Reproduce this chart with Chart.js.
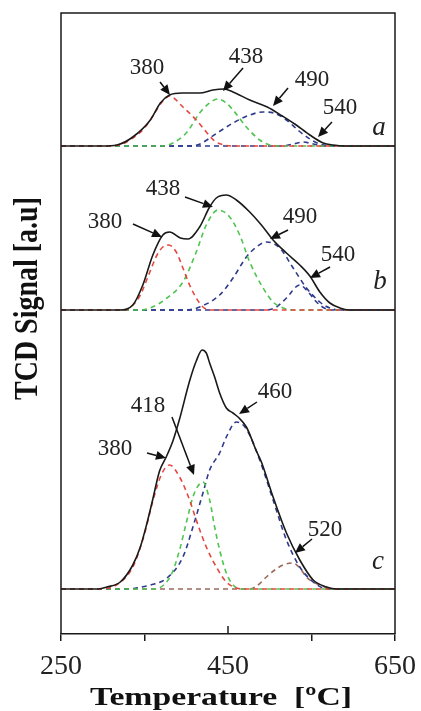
<!DOCTYPE html>
<html><head><meta charset="utf-8">
<script src="https://cdn.jsdelivr.net/npm/chart.js@4/dist/chart.umd.min.js"></script>
<style>html,body{margin:0;padding:0;background:#fff}#wrap{width:421px;height:711px;position:relative}</style>
</head><body><div id="wrap"><canvas id="c"></canvas></div>
<script>
// ---------- data (temperature °C, TCD signal a.u. above each panel baseline) ----------
const tickLabels = [250, 450, 650];
const xTitle = 'Temperature  [ºC]';
const yTitle = 'TCD Signal [a.u]';
const offsetA = 488, offsetB = 324, offsetC = 45;

// panel a
const aTotal = [[250,0],[300,0],[317,1],[336,9],[357,26],[369,43],[380,51],[395,53],[416,53],[432,56],[445,57],[456,54],[476,46],[497,39],[515,30],[530,22],[548,11],[564,3],[576,1],[590,0],[650,0]];
const aPeak380 = [[250,0],[300,0],[320,1],[336,8],[350,18],[360,30],[370,43],[380,50],[396,39],[412,26],[424,14],[434,5],[445,1],[455,0],[650,0]];
const aPeak438 = [[250,0],[370,0],[384,3],[401,14],[416,33],[428,43],[438,47],[448,43],[456,36],[472,19],[488,6],[500,1],[510,0],[650,0]];
const aPeak490 = [[250,0],[400,0],[413,1],[437,13],[456,23],[476,31],[492,34],[505,33],[520,26],[535,15],[548,7],[560,2],[575,0],[650,0]];
const aPeak540 = [[250,0],[515,0],[528,2],[540,4],[552,2],[565,0],[650,0]];

// panel b
const bTotal = [[250,0],[320,0],[336,5],[348,25],[360,55],[372,75],[380,78],[393,72],[402,71],[416,83],[428,103],[436,112],[448,115],[460,110],[476,98],[490,85],[504,70],[520,57],[536,45],[548,34],[560,18],[572,7],[584,2],[595,0],[650,0]];
const bPeak380 = [[250,0],[325,0],[335,4],[345,15],[355,35],[365,55],[372,63],[379,65],[388,58],[396,42],[404,25],[412,12],[420,3],[430,0],[650,0]];
const bPeak438 = [[250,0],[345,0],[357,2],[377,12],[396,28],[412,58],[424,85],[438,100],[452,93],[464,75],[476,48],[492,22],[504,8],[516,2],[530,0],[650,0]];
const bPeak490 = [[250,0],[400,0],[416,3],[440,15],[456,32],[472,53],[484,63],[496,68],[512,62],[528,42],[544,22],[560,8],[572,2],[585,0],[650,0]];
const bPeak540 = [[250,0],[495,0],[508,3],[520,12],[536,25],[546,18],[556,8],[568,1],[580,0],[650,0]];

// panel c
const cTotal = [[250,0],[295,0],[305,2],[321,7],[336,24],[345,42],[353,66],[360,90],[368,118],[376,132],[384,148],[392,170],[404,208],[412,228],[419,239],[424,236],[428,226],[434,212],[440,196],[448,181],[456,176],[462,172],[472,162],[484,138],[490,127],[504,92],[520,56],[536,29],[552,9],[568,2],[580,0],[650,0]];
const cPeak380 = [[250,0],[295,0],[320,6],[336,22],[350,55],[360,88],[370,114],[380,124],[392,112],[404,89],[412,69],[424,42],[436,22],[448,7],[460,1],[470,0],[650,0]];
const cPeak418 = [[250,0],[360,0],[373,4],[383,16],[392,39],[400,66],[408,92],[414,103],[420,107],[428,89],[434,62],[440,39],[448,16],[456,4],[466,0],[650,0]];
const cPeak460 = [[250,0],[330,0],[340,1],[357,4],[377,11],[396,32],[408,62],[420,96],[428,119],[440,136],[448,152],[460,167],[472,160],[488,129],[504,89],[520,49],[536,22],[552,7],[564,1],[575,0],[650,0]];
const cPeak520 = [[250,0],[476,0],[486,4],[496,12],[506,19],[516,24],[528,26],[536,21],[544,12],[552,7],[560,4],[570,1],[580,0],[650,0]];

// peak labels: text, label position, arrow start, arrow tip (data coordinates)
const peakLabels = [
  ['380', 353, 566, 368.6, 552, 380.5, 539],
  ['438', 471.6, 577, 468, 566, 444, 543],
  ['490', 550.6, 554, 521.9, 546, 503.9, 528],
  ['540', 584.1, 526, 574.5, 512, 557.8, 497],
  ['380', 302.7, 412, 336.2, 410, 371, 397],
  ['438', 372.2, 445, 398.5, 437, 432, 427],
  ['490', 536.2, 417, 521.9, 404, 500.3, 395],
  ['540', 581.7, 379, 572.2, 367, 548.2, 356],
  ['460', 506.3, 242, 484.7, 232, 463.2, 220],
  ['418', 354.2, 228, 382.9, 217, 409.3, 159],
  ['380', 314.7, 185, 353, 181, 375.7, 176],
  ['520', 566.2, 104, 550.6, 95, 530.2, 81]
];
const panelLetters = [['a', 630.8, 506], ['b', 632, 352], ['c', 629.6, 72]];

// ---------- styles ----------
const RED = '#e4473f', GREEN = '#4fc44f', BLUE = '#2e3a8c', BROWN = '#9a6a5c', BLACK = '#1a1a1a';

function pts(arr, off) { return arr.map(p => ({x: p[0], y: off + p[1]})); }
function dashed(arr, off, col) {
  return {data: pts(arr, off), borderColor: col, borderWidth: 1.6, borderDash: [5, 4],
          pointRadius: 0, fill: false, cubicInterpolationMode: 'monotone', order: 2};
}
function solid(arr, off) {
  return {data: pts(arr, off), borderColor: BLACK, borderWidth: 1.6,
          pointRadius: 0, fill: false, cubicInterpolationMode: 'monotone', order: 1};
}

const datasets = [
  solid(aTotal, offsetA), dashed(aPeak380, offsetA, RED), dashed(aPeak438, offsetA, GREEN), dashed(aPeak490, offsetA, BLUE), dashed(aPeak540, offsetA, BLUE),
  solid(bTotal, offsetB), dashed(bPeak380, offsetB, RED), dashed(bPeak438, offsetB, GREEN), dashed(bPeak490, offsetB, BLUE), dashed(bPeak540, offsetB, BLUE),
  solid(cTotal, offsetC), dashed(cPeak380, offsetC, RED), dashed(cPeak418, offsetC, GREEN), dashed(cPeak460, offsetC, BLUE), dashed(cPeak520, offsetC, BROWN)
];

const decor = {
  id: 'decor',
  afterDraw(chart) {
    const {ctx, chartArea: ca, scales: {x, y}} = chart;
    ctx.save();
    // frame (top, left, right)
    ctx.strokeStyle = BLACK; ctx.lineWidth = 1.5;
    ctx.beginPath();
    ctx.moveTo(ca.left, ca.bottom); ctx.lineTo(ca.left, ca.top); ctx.lineTo(ca.right, ca.top); ctx.lineTo(ca.right, ca.bottom);
    ctx.stroke();
    // inward tick at 450
    const x450 = x.getPixelForValue(450);
    ctx.beginPath(); ctx.moveTo(x450, ca.bottom); ctx.lineTo(x450, ca.bottom - 8); ctx.stroke();

    // peak labels with arrows
    ctx.fillStyle = '#222'; ctx.strokeStyle = '#111';
    ctx.font = '23px "Liberation Serif"';
    ctx.textAlign = 'center'; ctx.textBaseline = 'middle';
    peakLabels.forEach(l => {
      const tx = x.getPixelForValue(l[1]), ty = y.getPixelForValue(l[2]);
      ctx.fillText(l[0], tx, ty);
      const x1 = x.getPixelForValue(l[3]), y1 = y.getPixelForValue(l[4]);
      const x2 = x.getPixelForValue(l[5]), y2 = y.getPixelForValue(l[6]);
      const ang = Math.atan2(y2 - y1, x2 - x1), hl = 10, hw = 4.5;
      const bx = x2 - hl * Math.cos(ang), by = y2 - hl * Math.sin(ang);
      ctx.lineWidth = 1.5;
      ctx.beginPath(); ctx.moveTo(x1, y1); ctx.lineTo(bx, by); ctx.stroke();
      ctx.beginPath();
      ctx.moveTo(x2, y2);
      ctx.lineTo(bx + hw * Math.sin(ang), by - hw * Math.cos(ang));
      ctx.lineTo(bx - hw * Math.sin(ang), by + hw * Math.cos(ang));
      ctx.closePath(); ctx.fillStyle = '#111'; ctx.fill();
      ctx.fillStyle = '#222';
    });
    // panel letters
    ctx.font = 'italic 27px "Liberation Serif"';
    panelLetters.forEach(l => ctx.fillText(l[0], x.getPixelForValue(l[1]), y.getPixelForValue(l[2])));

    // axis titles (stretched to match the reference proportions)
    ctx.fillStyle = '#111';
    ctx.font = 'bold 26px "Liberation Serif"';
    ctx.textBaseline = 'alphabetic';
    let w = ctx.measureText(xTitle).width;
    ctx.save();
    ctx.translate(221, 705);
    ctx.scale(262 / w, 1);
    ctx.fillText(xTitle, 0, 0);
    ctx.restore();

    ctx.font = 'bold 28px "Liberation Serif"';
    w = ctx.measureText(yTitle).width;
    ctx.save();
    ctx.translate(37, 298.5);
    ctx.rotate(-Math.PI / 2);
    ctx.scale(203 / w, 1.18);
    ctx.fillText(yTitle, 0, 0);
    ctx.restore();
    ctx.restore();
  }
};

new Chart(document.getElementById('c'), {
  type: 'line',
  data: {datasets},
  options: {
    responsive: true, maintainAspectRatio: false, animation: false,
    devicePixelRatio: 1,
    layout: {padding: {left: 61, right: 26, top: 13, bottom: 0}},
    plugins: {legend: {display: false}, tooltip: {enabled: false}},
    elements: {line: {tension: 0.4}},
    scales: {
      x: {
        type: 'linear', min: 250, max: 650,
        afterFit(s) { s.height = 77; s.paddingLeft = 0; s.paddingRight = 0; },
        ticks: {stepSize: 100, autoSkip: false, maxRotation: 0, padding: 9, color: '#222',
                font: {family: 'Liberation Serif', size: 28},
                callback: v => tickLabels.includes(v) ? String(v) : ''},
        grid: {display: true, drawOnChartArea: false, drawTicks: true, tickLength: 7, color: BLACK,
               lineWidth: c => (c.tick && c.tick.value === 450) ? 0 : 1.5},
        border: {display: true, color: BLACK, width: 1.5}
      },
      y: {display: false, min: 0, max: 621}
    }
  },
  plugins: [decor]
});
</script>
</body></html>
